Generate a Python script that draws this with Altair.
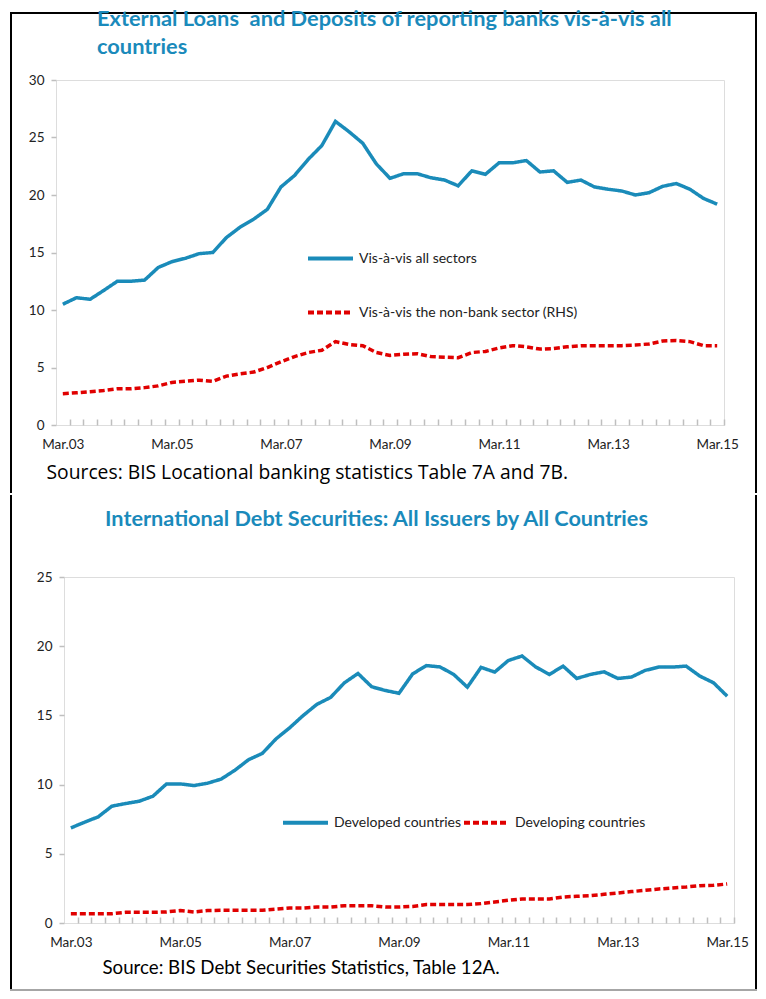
import altair as alt
import pandas as pd

# ---------------- data ----------------
quarters = [f"{m}.{y:02d}" for y in range(3, 16) for m in ("Mar", "Jun", "Sep", "Dec")][:49]
label_quarters = ["Mar.03", "Mar.05", "Mar.07", "Mar.09", "Mar.11", "Mar.13", "Mar.15"]

top_series = ["Vis-à-vis all sectors", "Vis-à-vis the non-bank sector (RHS)"]
all_sectors = [10.5, 11.07, 10.93, 11.7, 12.5, 12.5, 12.6, 13.7, 14.2, 14.5,
               14.9, 15.0, 16.3, 17.2, 17.9, 18.75, 20.7, 21.7, 23.1, 24.3,
               26.4, 25.5, 24.5, 22.7, 21.45, 21.85, 21.85, 21.5, 21.3, 20.8,
               22.1, 21.8, 22.8, 22.8, 23.0, 22.0, 22.1, 21.1, 21.3, 20.7,
               20.5, 20.35, 20.0, 20.2, 20.75, 21.0, 20.5, 19.7, 19.2]
non_bank = [2.72, 2.8, 2.9, 3.0, 3.15, 3.15, 3.25, 3.4, 3.7, 3.8,
            3.9, 3.8, 4.25, 4.45, 4.6, 5.0, 5.5, 5.95, 6.3, 6.5,
            7.25, 7.0, 6.9, 6.3, 6.05, 6.15, 6.2, 5.95, 5.9, 5.85,
            6.3, 6.4, 6.7, 6.9, 6.8, 6.6, 6.65, 6.8, 6.9, 6.9,
            6.9, 6.9, 6.95, 7.05, 7.3, 7.35, 7.25, 6.9, 6.9]

bottom_series = ["Developed countries", "Developing countries"]
developed = [6.87, 7.28, 7.67, 8.44, 8.63, 8.8, 9.16, 10.05, 10.05, 9.93,
             10.1, 10.4, 11.04, 11.8, 12.25, 13.3, 14.1, 15.0, 15.8, 16.3,
             17.35, 18.03, 17.07, 16.8, 16.6, 18.0, 18.6, 18.5, 17.96, 17.04,
             18.47, 18.13, 18.97, 19.29, 18.5, 17.96, 18.56, 17.67, 17.96, 18.15,
             17.67, 17.77, 18.25, 18.49, 18.49, 18.56, 17.84, 17.36, 16.39]
developing = [0.67, 0.67, 0.67, 0.67, 0.77, 0.77, 0.77, 0.8, 0.9, 0.8,
              0.9, 0.92, 0.92, 0.92, 0.92, 1.0, 1.08, 1.08, 1.15, 1.15,
              1.25, 1.25, 1.25, 1.15, 1.15, 1.2, 1.33, 1.33, 1.33, 1.33,
              1.4, 1.52, 1.64, 1.74, 1.74, 1.74, 1.88, 1.93, 1.98, 2.07,
              2.17, 2.27, 2.36, 2.46, 2.53, 2.6, 2.7, 2.72, 2.82]

top_title = ["External Loans\u00a0 and Deposits of reporting banks vis-à-vis all", "countries"]
top_source = "Sources: BIS Locational banking statistics Table 7A and 7B."
bottom_title = "International Debt Securities: All Issuers by All Countries"
bottom_source = "Source: BIS Debt Securities Statistics, Table 12A."

top_ticks = [0, 5, 10, 15, 20, 25, 30]
bottom_ticks = [0, 5, 10, 15, 20, 25]

# ---------------- style ----------------
BLUE = "#1a8bb9"
RED = "#e00000"
TITLE_COLOR = "#1a8abb"
GRAY = "#bfbfbf"
FONT = "Lato"
TEXT = "#222222"


def long_frame(a, b, names):
    return pd.DataFrame({
        "quarter": quarters * 2,
        "series": [names[0]] * len(a) + [names[1]] * len(b),
        "value": a + b,
    })


label_list = "[" + ",".join(f"'{q}'" for q in label_quarters) + "]"


def lines(df, names, ticks, W, H, source, src_font, src_size, src_x, src_y,
          lx, ly, direction, row_pad, col_pad):
    step = W / len(quarters)
    x = alt.X(
        "quarter:N", sort=quarters,
        scale=alt.Scale(type="point", padding=0.5),
        axis=alt.Axis(
            title=source, labelExpr=f"indexof({label_list}, datum.label) >= 0 ? datum.label : ''",
            ticks=False, domain=False, grid=True, gridDash=[0, H - 6, 6, 3000], gridColor=GRAY,
            gridWidth=1.5, tickOffset=step / 2, labelOffset=-step / 2, labelAngle=0,
            labelFont=FONT, labelFontSize=13.5, labelColor=TEXT, labelPadding=12,
            labelOverlap=False,
            titleFont=src_font, titleFontSize=src_size, titleFontWeight="normal", titleColor="black",
            titleX=src_x, titleY=src_y, titleAlign="left", titleBaseline="middle",
            titleAnchor="start",
        ),
    )
    y = alt.Y(
        "value:Q", scale=alt.Scale(domain=[ticks[0], ticks[-1]], nice=False),
        axis=alt.Axis(
            title=None, values=ticks, grid=False, domain=False, tickSize=5,
            tickColor=GRAY, tickWidth=1.5, labelFont=FONT, labelFontSize=13.5,
            labelColor=TEXT, labelPadding=7,
        ),
    )
    legend = alt.Legend(
        title=None, orient="none", legendX=lx, legendY=ly, direction=direction,
        symbolType="stroke", symbolSize=2025, symbolStrokeWidth=4,
        labelFont=FONT, labelFontSize=14, labelColor=TEXT, labelOffset=4, labelLimit=500,
        rowPadding=row_pad, columnPadding=col_pad,
    )
    return alt.Chart(df).mark_line(strokeWidth=3.5, strokeCap="butt").encode(
        x=x, y=y,
        color=alt.Color("series:N", scale=alt.Scale(domain=names, range=[BLUE, RED]),
                        sort=names, legend=legend),
        strokeDash=alt.StrokeDash("series:N", scale=alt.Scale(domain=names, range=[[1, 0], [6, 3]]),
                                  sort=names, legend=legend),
    )


one = pd.DataFrame({"f": [0]})


def frame_rule(color, **enc):
    # decorative page frame (not data)
    return alt.Chart(one).mark_rule(color=color, strokeWidth=2, strokeCap="square").encode(**enc)


def spacer(w):
    # invisible, empty cell used only to indent a panel
    return alt.Chart(one).mark_point(opacity=0, size=0).encode(
        x=alt.value(0.5), y=alt.value(5)
    ).properties(width=w, height=10, view=alt.ViewBackground(strokeOpacity=0, strokeWidth=0))


top_lines = lines(long_frame(all_sectors, non_bank, top_series), top_series, top_ticks, 668, 345,
                  top_source, "Open Sans", 19.3, -10, 47, 298, 154, "vertical", 21, 10)
top = alt.layer(
    top_lines,
    frame_rule("black", x=alt.value(-45), x2=alt.value(700), y=alt.value(-67)),
    frame_rule("black", x=alt.value(-45), y=alt.value(-67), y2=alt.value(412)),
    frame_rule("black", x=alt.value(700), y=alt.value(-67), y2=alt.value(412)),
).properties(
    width=668, height=345,
    title=alt.TitleParams(text=top_title, anchor="start", frame="group", dx=41, offset=-69,
                          baseline="bottom", fontSize=21.8, font=FONT, fontWeight="bold",
                          color=TITLE_COLOR, lineHeight=28),
)

bottom_lines = lines(long_frame(developed, developing, bottom_series), bottom_series, bottom_ticks,
                     670, 346, bottom_source, FONT, 18.7, 38, 44, 273, 221, "horizontal", 8, -6)
bottom = alt.layer(
    bottom_lines,
    frame_rule("black", x=alt.value(-53), y=alt.value(-81), y2=alt.value(413)),
    frame_rule("black", x=alt.value(692), y=alt.value(-81), y2=alt.value(413)),
    frame_rule("#a6a6a6", x=alt.value(-53), x2=alt.value(692), y=alt.value(413)),
).properties(
    width=670, height=346,
    title=alt.TitleParams(text=bottom_title, anchor="middle", frame="group", dx=-22.5, offset=-58.5,
                          baseline="bottom", fontSize=21.7, font=FONT, fontWeight="bold",
                          color=TITLE_COLOR),
)

row_top = alt.hconcat(spacer(1), top, spacing=0)
row_bottom = alt.hconcat(spacer(1), bottom, spacing=0)

chart = alt.vconcat(row_top, row_bottom, spacing=0).resolve_scale(
    color="independent", strokeDash="independent"
).properties(
    padding={"left": 0, "top": 0, "right": 0, "bottom": 0}
).configure_view(stroke=GRAY, strokeWidth=2).configure(font=FONT)

chart.save("out.html", embed_options={"renderer": "svg", "actions": False})
